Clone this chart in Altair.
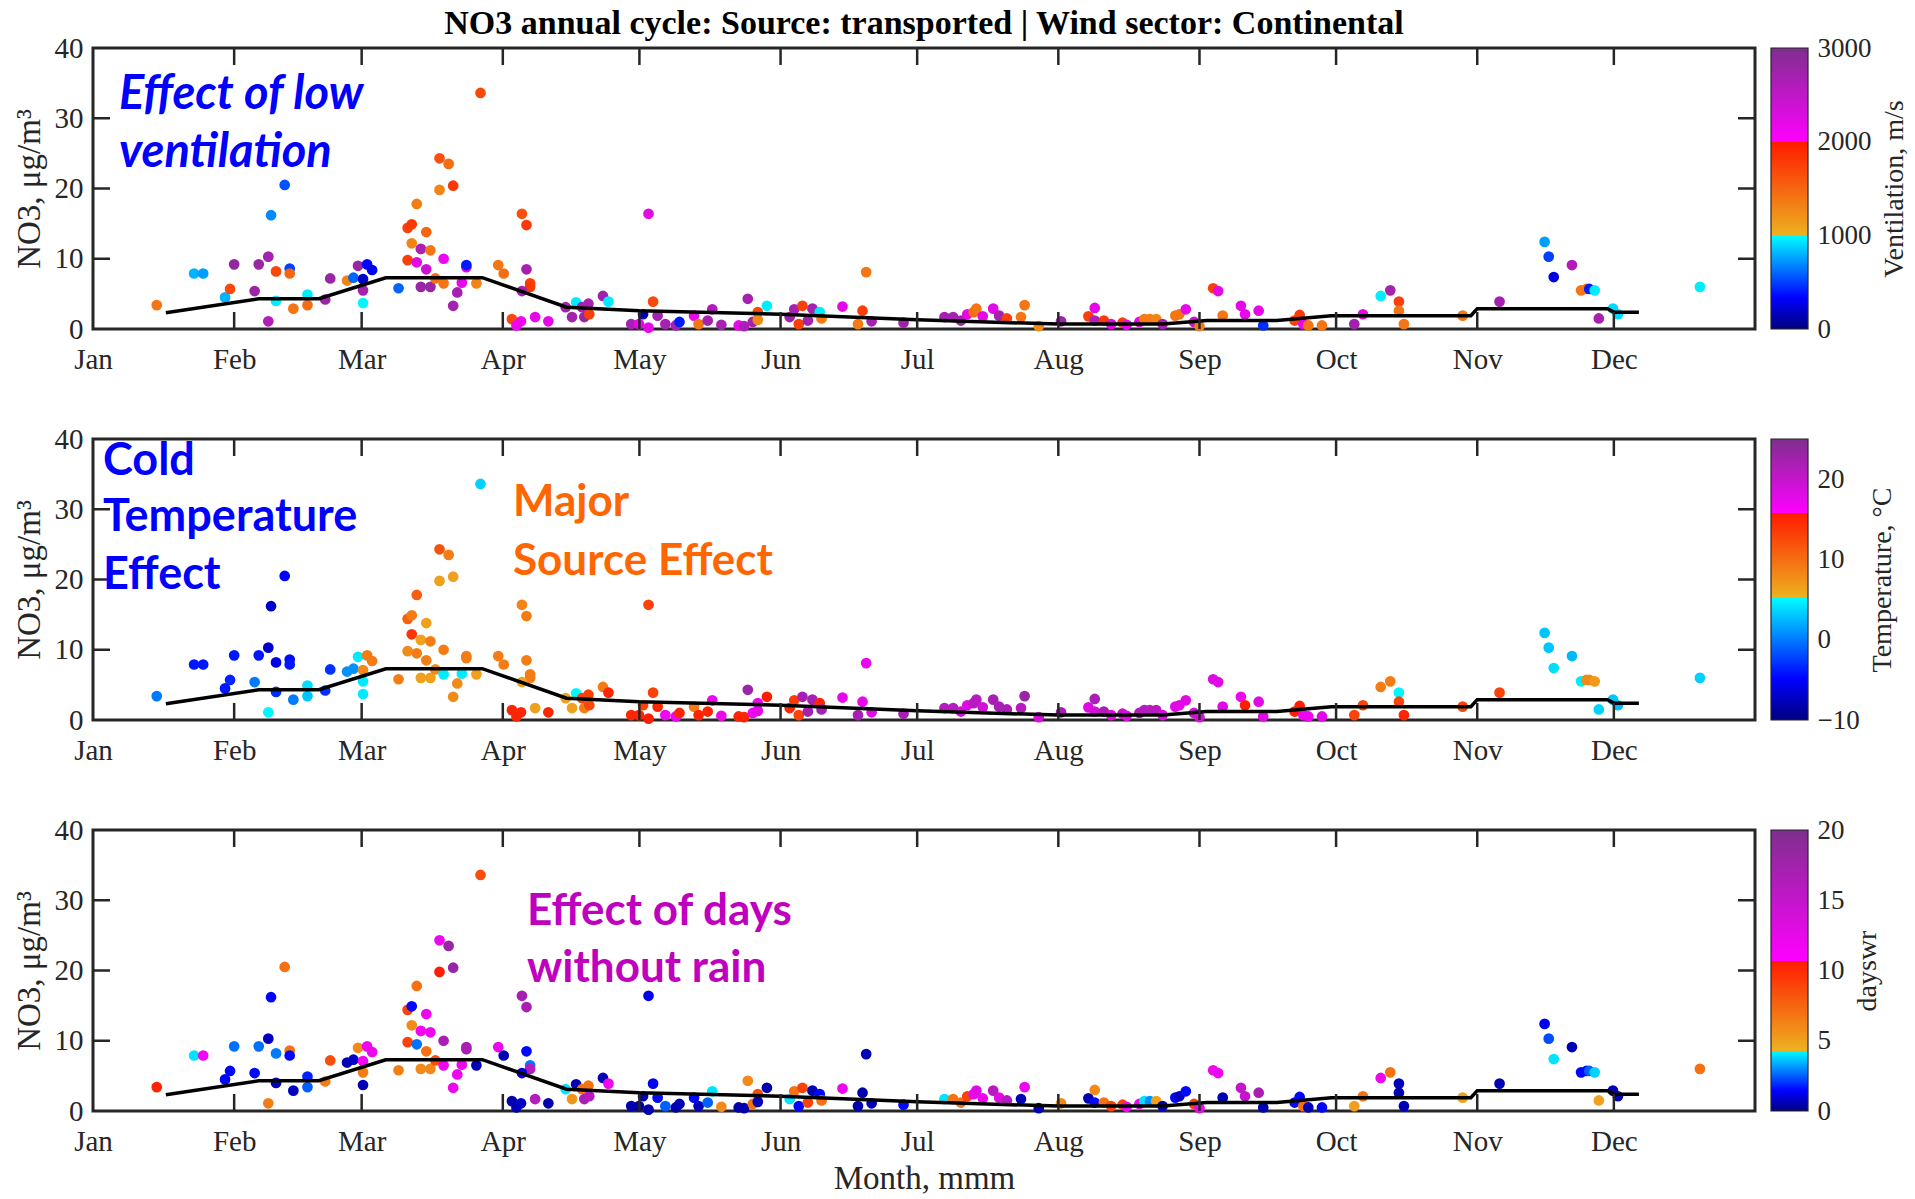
import altair as alt
import pandas as pd

MONTHS = ["Jan", "Feb", "Mar", "Apr", "May", "Jun", "Jul", "Aug", "Sep", "Oct", "Nov", "Dec"]
MONTH_START = [0, 31, 59, 90, 120, 151, 181, 212, 243, 273, 304, 334]
Y_TICKS = [0, 10, 20, 30, 40]

# day of year (Jan 1 = 0), NO3 (ug/m3), ventilation (m/s), temperature (C), dayswr
day = [14.0, 22.2, 24.2, 29.0, 30.1, 31.0, 35.5, 36.4, 38.5, 38.5, 39.1, 40.2, 40.2, 42.1, 43.2, 43.2, 44.0,
       47.1, 47.1, 51.0, 52.1, 55.8, 57.2, 58.2, 60.2, 61.3, 59.3, 59.3, 59.3, 67.1, 69.1, 70.0, 70.0, 69.1,
       72.0, 71.1, 73.2, 73.2, 74.1, 71.1, 76.1, 76.1, 78.1, 79.1, 85.1, 72.0, 74.1, 75.2, 77.0, 77.0, 81.0,
       80.0, 79.1, 82.0, 82.0, 84.2, 89.0, 90.2, 94.2, 95.2, 95.2, 96.0, 96.0, 94.2, 92.0, 93.0, 94.0, 97.1,
       100.0,
       103.8, 105.2, 106.1, 107.4, 108.8, 107.9, 109.0, 112.0, 113.2, 118.2, 119.9, 120.8, 122.0, 122.0, 123.0,
       124.0, 125.7, 128.0, 128.8, 132.0, 133.0, 135.0, 136.0, 138.0, 141.8, 143.0, 143.8, 144.9, 146.0, 146.0,
       148.0, 153.0, 154.0, 155.0, 155.8, 157.0, 158.0, 159.6, 160.0, 164.6, 168.0, 169.0, 169.8, 171.0, 178.0,
       187.0, 188.9, 190.6, 192.0, 193.4, 194.0, 195.4, 197.7, 199.0, 200.7, 203.8, 204.6, 207.7, 212.6, 218.6,
       220.0, 220.0, 222.0, 223.6,
       226.1, 227.0, 229.8, 230.9, 232.1, 233.5, 234.9, 237.7, 238.6, 240.0, 241.8, 243.0, 246.0, 247.1, 248.1,
       252.1, 253.0, 256.0, 257.0, 263.9, 265.0, 265.8, 266.9, 269.9, 277.0, 278.9, 282.8, 284.9, 286.8, 286.8,
       287.9, 300.8, 308.9, 318.8, 319.7, 320.8, 324.8, 326.8, 328.0, 328.6, 329.8, 330.7, 333.8, 334.9, 352.9]

no3 = [3.4, 7.9, 7.9, 4.5, 5.7, 9.2, 5.4, 9.2, 10.3, 1.1, 16.2, 4.0, 8.2, 20.5, 8.6, 7.9, 2.9,
       3.4, 4.9, 4.2, 7.2, 6.9, 7.3, 9.0, 9.2, 8.4, 7.1, 5.5, 3.7, 5.8, 14.4, 14.9, 12.2, 9.8,
       11.4, 9.5, 8.5, 13.8, 11.2, 17.8, 19.8, 24.3, 23.5, 20.4, 33.6, 6.0, 6.0, 7.2, 6.5, 10.0, 6.6,
       5.2, 3.3, 8.8, 9.1, 6.5, 9.1, 7.9, 16.4, 14.8, 8.5, 6.5, 6.0, 5.4, 1.4, 0.5, 1.1, 1.7,
       1.1,
       3.1, 1.7, 3.8, 3.1, 3.6, 1.7, 2.1, 4.7, 3.9, 0.7, 0.7, 2.1, 16.4, 0.2, 3.9,
       1.9, 0.7, 0.5, 1.0, 1.9, 0.7, 1.2, 2.8, 0.6, 0.5, 0.4, 4.3, 1.0, 2.4, 1.3,
       3.3, 1.7, 2.8, 0.7, 3.3, 1.2, 2.9, 2.4, 1.5, 3.2, 0.7, 2.6, 8.1, 1.1, 0.9,
       1.7, 1.7, 1.2, 2.1, 2.4, 2.9, 1.8, 2.9, 1.9, 1.5, 1.7, 3.4, 0.4, 1.1, 1.8,
       1.2, 3.0, 1.2, 0.7,
       0.9, 0.6, 1.0, 1.4, 1.4, 1.4, 0.7, 1.9, 2.1, 2.8, 1.0, 0.4, 5.8, 5.4, 1.9,
       3.3, 2.1, 2.6, 0.5, 1.2, 2.0, 0.7, 0.5, 0.5, 0.7, 2.1, 4.7, 5.5, 3.9, 2.6,
       0.7, 1.9, 3.9, 12.4, 10.3, 7.4, 9.1, 5.5, 5.7, 5.7, 5.5, 1.5, 2.9, 2.1, 6.0]

ventilation = [1400, 800, 750, 800, 1700, 2850, 2800, 2800, 2700, 2600, 700, 950, 1700, 550, 500, 1500, 1400,
               1450, 950, 2800, 2800, 1300, 600, 2800, 350, 300, 200, 2700, 980, 600, 1750, 1800, 1300, 1750,
               2650, 2200, 2400, 1500, 1400, 1350, 1300, 1650, 1450, 1800, 1700, 2800, 2800, 1450, 1400, 2150, 2200,
               2700, 2700, 2200, 400, 1300, 1400, 1450, 1650, 1800, 2700, 1750, 1800, 2700, 1700, 2150, 2150, 2200,
               2200,
               2700, 2700, 950, 2700, 2650, 2800, 1750, 2750, 950, 2700, 2200, 150, 2250, 2200, 1700,
               2700, 2700, 2700, 400, 2200, 1400, 2700, 2600, 2700, 2200, 2650, 2700, 2700, 1700, 1250,
               950, 2750, 2700, 1750, 1750, 2700, 2700, 950, 1350, 2200, 1350, 1750, 1400, 2700, 2750,
               2700, 2700, 2700, 2200, 1450, 1400, 2200, 2250, 2700, 1750, 1400, 1400, 1250, 2700, 1750,
               2600, 2200, 1800, 2200,
               1750, 2200, 2200, 1350, 1350, 1300, 2700, 1400, 1400, 2200, 2400, 1350, 1750, 2200, 1400,
               2200, 2200, 2200, 450, 1750, 1800, 2200, 1400, 1400, 2750, 2200, 950, 2700, 1750, 1400,
               1400, 1400, 2700, 750, 500, 250, 2600, 1400, 1400, 400, 950, 2700, 900, 900, 950]

temperature = [0, -4, -4, -4, -3.5, -4, 0, -4, -7, 5, -7, -3, -6, -5, -4.5, -4, 0,
               3, 4, -3, -3, 1, 1, 4.5, 9, 9, 8, 4.5, 4.5, 9, 11, 9, 14, 8,
               6.5, 9, 9, 6.5, 9, 11, 6.5, 12, 9, 6.5, 3.5, 6.5, 6.5, 8, 4.5, 9, 4.5,
               8, 8, 9, 9, 6.5, 9, 9, 8.5, 9, 9, 9, 9, 6.5, 15, 15, 15, 6.5,
               15,
               6.5, 6.5, 5, 13, 13, 9, 12.5, 9, 15, 15, 15, 13, 13, 15.5, 13,
               15, 17, 17, 15, 9, 15, 15, 17, 17.5, 15, 15, 23, 17, 17, 17.5,
               15.5, 15, 13.5, 13, 22, 22, 22, 15, 22, 17.5, 22, 17.5, 17.5, 18, 22,
               21, 21, 19, 18, 21, 21, 19, 22, 22, 22, 21, 23, 18, 22, 18,
               19, 22, 22, 18,
               20, 18, 21, 21, 21, 21, 18, 18, 18, 18, 19, 19, 18, 18, 18,
               17, 15.5, 18, 18, 15.5, 15.5, 17, 17, 18, 13, 13, 9, 9, 5, 13,
               15, 13, 13, 3, 3, 4, 2.5, 4.5, 8, 8, 7, 3.5, 3, 2.5, 3.5]

dayswr = [10.3, 4, 11.5, 1.5, 1.5, 2.7, 1.5, 2.7, 0.7, 6.5, 1.5, 0.5, 2.8, 7, 7, 1.5, 0.7,
          2.5, 1.8, 6.5, 8.5, 0.6, 0.8, 6, 12, 12, 11.5, 6.5, 0.6, 6.5, 9, 1.5, 6, 9,
          11.5, 2.7, 7, 12, 12, 7, 10.5, 12, 18, 18, 8.5, 6, 6, 8.5, 12, 17, 12,
          12, 12, 17, 17, 0.6, 12, 0.6, 17, 17, 1.5, 2.8, 16, 1.2, 0.5, 0.5, 0.8, 16,
          0.5,
          4, 5.5, 0.6, 7, 7, 17, 16, 0.6, 12, 0.5, 0.5, 0.5, 1.2, 0.5, 1.3,
          1.5, 2.5, 0.5, 0.6, 1.5, 0.6, 2.5, 4, 6, 0.5, 0.5, 6, 7, 8.5, 0.6,
          0.5, 4, 7, 1.5, 9, 9, 0.6, 1.5, 7, 12, 0.5, 0.5, 0.6, 0.6, 1.5,
          4, 7, 7, 9, 12, 13, 12, 16, 13, 16, 0.6, 12, 0.6, 6, 0.6,
          1.5, 6, 7, 9,
          9, 12, 12, 4, 3, 5, 0.6, 1.5, 0.7, 1.5, 9, 12, 12, 12, 0.6,
          15, 15, 17, 0.6, 1.5, 1.5, 7, 0.6, 1.5, 5, 7, 12, 7, 0.6, 0.6,
          0.6, 5, 0.6, 1.2, 2.3, 4, 0.6, 1.5, 1.5, 2.5, 3.8, 5, 0.6, 0.6, 7]

# black reference curve
line_day = [16, 36.4, 49.6, 64.3, 85.5, 104, 120, 151, 181, 212, 235, 244.6, 260, 272, 302.6, 304, 332.6, 334, 339.5]
line_no3 = [2.3, 4.3, 4.3, 7.3, 7.3, 3.1, 2.6, 2.1, 1.3, 0.7, 0.7, 1.2, 1.2, 1.9, 1.9, 2.9, 2.9, 2.4, 2.4]

# colour bars: (min, break1, break2, max) and tick labels
vent_lims = (0, 1000, 2000, 3000)
temp_lims = (-10, 5.3, 15.8, 25)
dwr_lims = (0, 4.3, 10.7, 20)
vent_ticks = [0, 1000, 2000, 3000]
temp_ticks = [-10, 0, 10, 20]
dwr_ticks = [0, 5, 10, 15, 20]

CM_COLORS = ["#000080", "#0000FF", "#00FFFF", "#EDB120", "#FF1A00", "#FF00FF", "#7E2F8E"]

points_df = pd.DataFrame({"day": day, "no3": no3, "vent": ventilation,
                          "temp": temperature, "dayswr": dayswr})
line_df = pd.DataFrame({"day": line_day, "no3": line_no3})
xt_df = pd.DataFrame({"day": MONTH_START[1:]})
yt_df = pd.DataFrame({"no3": Y_TICKS[1:-1]})
one_df = pd.DataFrame({"k": [0]})

W, H = 1662, 281
CBW = 37
CBGAP = 16
AX = "#262626"
SERIF = "Liberation Serif"
SANS = "Lato"
TICK = 17

label_expr = ("[" + ",".join(f"'{m}'" for m in MONTHS) + "][indexof(["
              + ",".join(str(v) for v in MONTH_START) + "], datum.value)]")


def cmap(lo, b1, b2, hi):
    eps = (hi - lo) * 1e-4
    return [lo, lo + (b1 - lo) / 3.0, b1, b1 + eps, b2, b2 + eps, hi], CM_COLORS


def note(text, x, y, color, size=44, italic=False, bold=True, font=SANS, align="left"):
    kw = dict(text=text, font=font, fontSize=size, color=color, align=align, baseline="alphabetic")
    if bold:
        kw["fontWeight"] = "bold"
    if italic:
        kw["fontStyle"] = "italic"
    return alt.Chart(one_df).mark_text(**kw).encode(x=alt.value(x), y=alt.value(y))


def colorbar(lims, ticks, title):
    lo, b1, b2, hi = lims
    dom, rng = cmap(*lims)
    stops = [alt.GradientStop(offset=min(1.0, (v - lo) / (hi - lo)), color=c) for v, c in zip(dom, rng)]
    grad = alt.LinearGradient(gradient="linear", stops=stops, x1=0, x2=0, y1=1, y2=0)
    return alt.Chart(one_df).mark_rect(fill=grad, stroke=AX, strokeWidth=1.2).encode(
        y=alt.YDatum(datum=lo, scale=alt.Scale(domain=[lo, hi], nice=False, zero=False),
                     axis=alt.Axis(orient="right", offset=CBGAP + CBW, values=ticks, format="d",
                                   ticks=False, domain=False, grid=False,
                                   labelFont=SERIF, labelFontSize=27, labelColor=AX, labelPadding=9,
                                   labelFlush=False, title=title, titleFont=SERIF, titleFontSize=28,
                                   titleFontWeight="normal", titleColor=AX, titleAngle=270,
                                   titleBaseline="top", titlePadding=9)),
        y2=alt.Y2Datum(datum=hi),
        x=alt.value(W + CBGAP), x2=alt.value(W + CBGAP + CBW),
    )


def row(field, lims, ticks, cbtitle, xtitle, notes):
    dom, rng = cmap(*lims)
    xaxis_kw = dict(values=MONTH_START, labelExpr=label_expr, ticks=False, domain=False, grid=False,
                    labelFont=SERIF, labelFontSize=29, labelColor=AX, labelPadding=16,
                    labelFlush=False, labelOverlap=False)
    xscale = alt.Scale(domain=[0, 365], nice=False, zero=False)
    if xtitle:
        xaxis_kw.update(titleFont=SERIF, titleFontSize=33, titleFontWeight="normal",
                        titleColor=AX, titlePadding=6)
        x = alt.X("day:Q", title="Month, mmm", scale=xscale, axis=alt.Axis(**xaxis_kw))
    else:
        x = alt.X("day:Q", title=None, scale=xscale, axis=alt.Axis(**xaxis_kw))
    y = alt.Y("no3:Q", title="NO3, μg/m³",
              scale=alt.Scale(domain=[0, 40], nice=False),
              axis=alt.Axis(values=Y_TICKS, ticks=False, domain=False, grid=False,
                            labelFont=SERIF, labelFontSize=29, labelColor=AX, labelPadding=10,
                            titleFont=SERIF, titleFontSize=33, titleFontWeight="normal",
                            titleColor=AX, titlePadding=8))
    pts = alt.Chart(points_df).mark_circle(size=115, opacity=1).encode(
        x=x, y=y,
        color=alt.Color(f"{field}:Q",
                        scale=alt.Scale(type="linear", domain=dom, range=rng, clamp=True, interpolate="rgb"),
                        legend=None))
    ln = alt.Chart(line_df).mark_line(color="black", strokeWidth=3.5).encode(
        x=alt.X("day:Q"), y=alt.Y("no3:Q"))
    tb = alt.Chart(xt_df).mark_rule(color=AX, strokeWidth=2.5).encode(
        x=alt.X("day:Q"), y=alt.value(H), y2=alt.value(H - TICK))
    tt = alt.Chart(xt_df).mark_rule(color=AX, strokeWidth=2.5).encode(
        x=alt.X("day:Q"), y=alt.value(0), y2=alt.value(TICK))
    tl = alt.Chart(yt_df).mark_rule(color=AX, strokeWidth=2.5).encode(
        y=alt.Y("no3:Q"), x=alt.value(0), x2=alt.value(TICK))
    tr = alt.Chart(yt_df).mark_rule(color=AX, strokeWidth=2.5).encode(
        y=alt.Y("no3:Q"), x=alt.value(W - TICK), x2=alt.value(W))
    inner = alt.layer(pts, ln, tb, tt, tl, tr, *notes)
    cb = colorbar(lims, ticks, cbtitle)
    return alt.layer(inner, cb).resolve_scale(y="independent").properties(width=W, height=H)


BLUE = "#0000FF"
ORANGE = "#FF6600"
PURPLE = "#BF00BF"

title_note = note("NO3 annual cycle: Source: transported | Wind sector: Continental", W / 2, -14,
                  "black", size=34, font=SERIF, align="center")

r1 = row("vent", vent_lims, vent_ticks, "Ventilation, m/s", False,
         [note("Effect of low", 26, 61, BLUE, size=47, italic=True),
          note("ventilation", 26, 119, BLUE, size=47, italic=True), title_note])
r2 = row("temp", temp_lims, temp_ticks, "Temperature, °C", False,
         [note("Cold", 10, 36, BLUE, size=45), note("Temperature", 10, 92, BLUE, size=45),
          note("Effect", 10, 150, BLUE, size=45),
          note("Major", 420, 77, ORANGE), note("Source Effect", 420, 136, ORANGE)])
r3 = row("dayswr", dwr_lims, dwr_ticks, "dayswr", True,
         [note("Effect of days", 434, 95, PURPLE), note("without rain", 434, 152, PURPLE)])

chart = alt.vconcat(r1, r2, r3, spacing=110, bounds="flush").resolve_scale(color="independent").properties(
    padding={"left": 11, "top": 5, "right": 4, "bottom": 0}, background="white"
).configure_view(stroke=AX, strokeWidth=3)

chart.save("out.html", embed_options={"renderer": "svg", "actions": False})
